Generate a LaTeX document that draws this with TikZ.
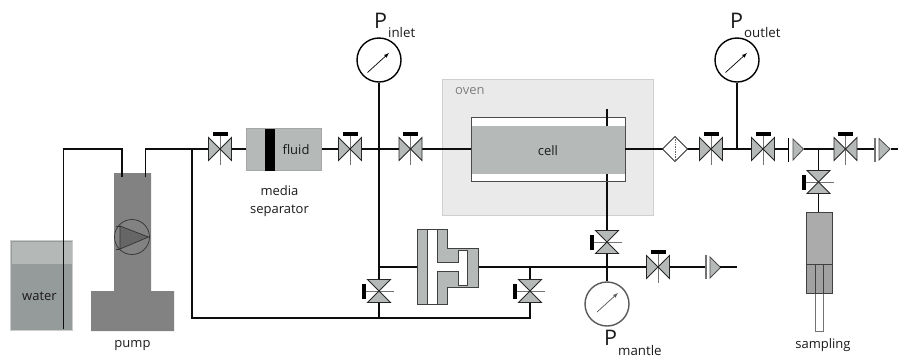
\documentclass[tikz,border=0pt]{standalone}
\usepackage{fontspec}
\setmainfont{Open Sans}
\definecolor{vgray}{HTML}{B5BAB8}
\definecolor{pumpg}{HTML}{828282}
\definecolor{ovenf}{HTML}{EAEAEA}
\definecolor{ovenl}{HTML}{CFCFCF}
\definecolor{wat}{HTML}{959A9A}
\definecolor{wattop}{HTML}{B4B9B7}
\definecolor{txt}{HTML}{1A1A1A}
\tikzset{
  pipe/.style={draw=black!95,line width=1.6pt},
  lab/.style={font=\fontsize{13}{14}\selectfont,text=txt,inner sep=0pt,align=center},
  biglab/.style={font=\fontsize{21.5}{24}\selectfont,text=txt,inner sep=0pt,anchor=base west},
  sublab/.style={font=\fontsize{13.3}{14}\selectfont,text=txt,inner sep=0pt,anchor=base west},
  vtri/.style={draw=black!85,fill=vgray,line width=.9pt,line join=miter},
  stem/.style={draw=black!55,line width=1pt},
  gauge/.style={circle,draw=black,line width=1.4pt,fill=white,minimum size=44pt,inner sep=0pt},
  chk/.style={draw=black!70,fill=vgray,line width=.8pt},
  valveh/.pic={
    \draw[stem] (0,-15)--(0,16);
    \fill[black] (-7.5,-17) rectangle (7.5,-13.5);
    \path[vtri] (-11.5,-11.5)--(-11.5,11.5)--(0,0)--cycle;
    \path[vtri] (11.5,-11.5)--(11.5,11.5)--(0,0)--cycle;
  },
  valvev/.pic={
    \draw[stem] (-15,0)--(15,0);
    \fill[black] (-17,-7.5) rectangle (-13,7.5);
    \path[vtri] (-11.5,-11.5)--(11.5,-11.5)--(0,0)--cycle;
    \path[vtri] (-11.5,11.5)--(11.5,11.5)--(0,0)--cycle;
  },
}
\begin{document}
\begin{tikzpicture}[x=1pt,y=-1pt]
\useasboundingbox (0,0) rectangle (899,357);
% oven
\node[draw=ovenl,fill=ovenf,line width=1pt,minimum width=211pt,minimum height=136pt,inner sep=0pt] (oven) at (547.5,147) {};
\node[lab,text=black!50,anchor=base west] (ovenlab) at (455,94) {oven};
% water
\fill[wat] (10,240) rectangle (73,331);
\fill[wattop] (12,242) rectangle (72,264);
\draw[draw=black!20,line width=.8pt] (10.5,240.5) rectangle (72.5,330.5);
\node[lab] (water) at (39.5,296) {water};
% pump
\path[fill=pumpg] (114,173)--(151,173)--(151,291)--(174,291)--(174,331)--(91,331)--(91,291)--(114,291)--cycle;
\node[circle,draw=black!80,line width=.7pt,minimum size=35pt,inner sep=0pt] (pumpc) at (132,237) {};
\path[draw=black!80,fill=black!60,line width=.7pt] (120,226)--(148.5,237)--(120,249)--cycle;
\draw[black!80,line width=.7pt] (116,226)--(120,226) (116,249)--(120,249);
\node[lab] (pump) at (132.5,346) {pump};
% gauges
\node[gauge] (gin) at (379,60) {};
\node[gauge] (gout) at (737,60) {};
\node[gauge,draw=black!65] (gm) at (607,304) {};
\draw[black,line width=.7pt,-latex] (367.5,72.5)--(389,53);
\draw[black,line width=.7pt,-latex] (725.5,72.5)--(747,53);
\draw[black!65,line width=.7pt,-latex] (597,312)--(618,293);
% named points
\coordinate (wa) at (63.5,329);
\coordinate (wb) at (63.5,149);
\coordinate (wc) at (122,149);
\coordinate (wd) at (122,177);
\coordinate (oa) at (145.5,177);
\coordinate (ob) at (145.5,149);
\coordinate (j1) at (192,149);
\coordinate (j2) at (192,318);
\coordinate (j3) at (530,318);
\coordinate (v1) at (220,149);
\coordinate (v2) at (350,149);
\coordinate (v3) at (410.5,149);
\coordinate (jin) at (379,149);
\coordinate (jlow) at (379,318);
\coordinate (vl1) at (379,291);
\coordinate (vl2) at (530,291);
\coordinate (jb1) at (379,267);
\coordinate (jb2) at (530,267);
\coordinate (jb3) at (607,267);
\coordinate (vm) at (607,242);
\coordinate (vm2) at (658,267);
\coordinate (lineend) at (737,267);
\coordinate (vo1) at (711,149);
\coordinate (vo2) at (763,149);
\coordinate (vo3) at (845.5,149);
\coordinate (jout) at (737,149);
\coordinate (js) at (818.5,149);
\coordinate (vs) at (818.5,182);
\coordinate (oe) at (898,149);
\coordinate (ct) at (607,109);
\coordinate (cb) at (607,174);
\coordinate (cti) at (607,126);
% pipes
\draw[pipe] (wa)--(wb)--(wc)--(wd);
\draw[pipe] (oa)--(ob)--(j1)--(v1);
\draw[pipe] (j1)--(j2)--(j3)--(jb2);
\draw[pipe] (v1)--(v2)--(v3);
\draw[pipe] (gin.south)--(jin)--(jlow);
\draw[pipe] (jb1)--(jb3)--(lineend);
\draw[pipe] (cb)--(jb3)--(gm.north);
% media separator
\node[draw=black!35,fill=vgray,line width=.8pt,minimum width=75pt,minimum height=42pt,inner sep=0pt] (sep) at (283.5,149) {};
\fill[black] (264.5,128.5) rectangle (274.5,170.5);
\node[lab] (fluid) at (296,150) {fluid};
\node[lab,font=\fontsize{13}{18}\selectfont] (media) at (279.5,201) {media\\separator};
% cell
\draw[pipe] (v3)--(471,149);
\node[draw=black!70,fill=white,line width=.9pt,minimum width=154pt,minimum height=64pt,inner sep=0pt] (cell) at (548,149) {};
\fill[vgray] (471.5,126) rectangle (624.5,174);
\draw[pipe] (ct)--(cti);
\draw[pipe] (cb)--(607,181);
\node[lab] (celllab) at (548,151) {cell};
\draw[pipe] (cell.east)--(vo1)--(oe);
\draw[pipe] (jout)--(gout.south);
\draw[pipe] (js)--(vs)--(818.5,212);
% filter
\path[draw=black!80,fill=white,line width=.8pt] (662.5,149)--(675,136.5)--(687.5,149)--(675,161.5)--cycle;
\draw[black!60,line width=.7pt,densely dotted] (675,137)--(675,161);
\coordinate (filter) at (675,149);
% check valves
\fill[white] (789,136) rectangle (804,163);
\draw[black,line width=1pt] (788,137.5)--(788,162);
\path[chk] (793,139)--(803.5,149)--(793,160)--cycle;
\fill[white] (876,136) rectangle (891,163);
\draw[black!55,line width=1.4pt] (875,137.5)--(875,162);
\path[chk] (879,138.5)--(890,149)--(879,160)--cycle;
\fill[white] (707,255) rectangle (721,280);
\draw[black!55,line width=1.2pt] (706,255)--(706,279);
\path[chk] (710,257)--(720.5,267.5)--(710,278)--cycle;
\draw[pipe] (720,267)--(lineend);
% valves
\pic at (v1) {valveh};
\pic at (v2) {valveh};
\pic at (v3) {valveh};
\pic at (vo1) {valveh};
\pic at (vo2) {valveh};
\pic at (vo3) {valveh};
\pic at (vm2) {valveh};
\pic at (vl1) {valvev};
\pic at (vl2) {valvev};
\pic at (vm) {valvev};
\pic at (vs) {valvev};
% labels
\node[biglab] (pi) at (374,28.5) {P};
\node[sublab] (pis) at (388,37) {inlet};
\node[biglab] (po) at (730,28.5) {P};
\node[sublab] (pos) at (744,37) {outlet};
\node[biglab] (pm) at (604,345) {P};
\node[sublab] (pms) at (618,355) {mantle};
% cylinder block
\path[draw=black!75,fill=vgray,line width=.9pt] (417.7,229)--(447.7,229)--(447.7,248)--(478.7,248)--(478.7,287)--(447.7,287)--(447.7,304)--(417.7,304)--cycle;
\fill[white] (427,229.5) rectangle (437,303.5);
\path[draw=black!75,fill=white,line width=.9pt] (437,262)--(458,262)--(458,250)--(467.7,250)--(467.7,285)--(458,285)--(458,271)--(437,271);
\fill[white] (436,262.5) rectangle (439,270.5);
\draw[black!75,line width=.7pt] (427,229)--(427,304) (437,229)--(437,262) (437,271)--(437,304);
% syringe
\fill[black!33] (806,212) rectangle (832.5,264.5);
\fill[black!37] (806,264.5) rectangle (832.5,293.5);
\draw[black!75,line width=.9pt] (806,212) rectangle (832.5,293.5);
\draw[black!75,line width=.8pt] (806,264.5)--(832.5,264.5) (815,264.5)--(815,293.5) (823.5,264.5)--(823.5,293.5);
\draw[black!55,line width=.9pt] (815,293.5)--(815,331)--(823.5,331)--(823.5,293.5);
\node[lab] (sampling) at (823,345) {sampling};
\end{tikzpicture}
\end{document}
